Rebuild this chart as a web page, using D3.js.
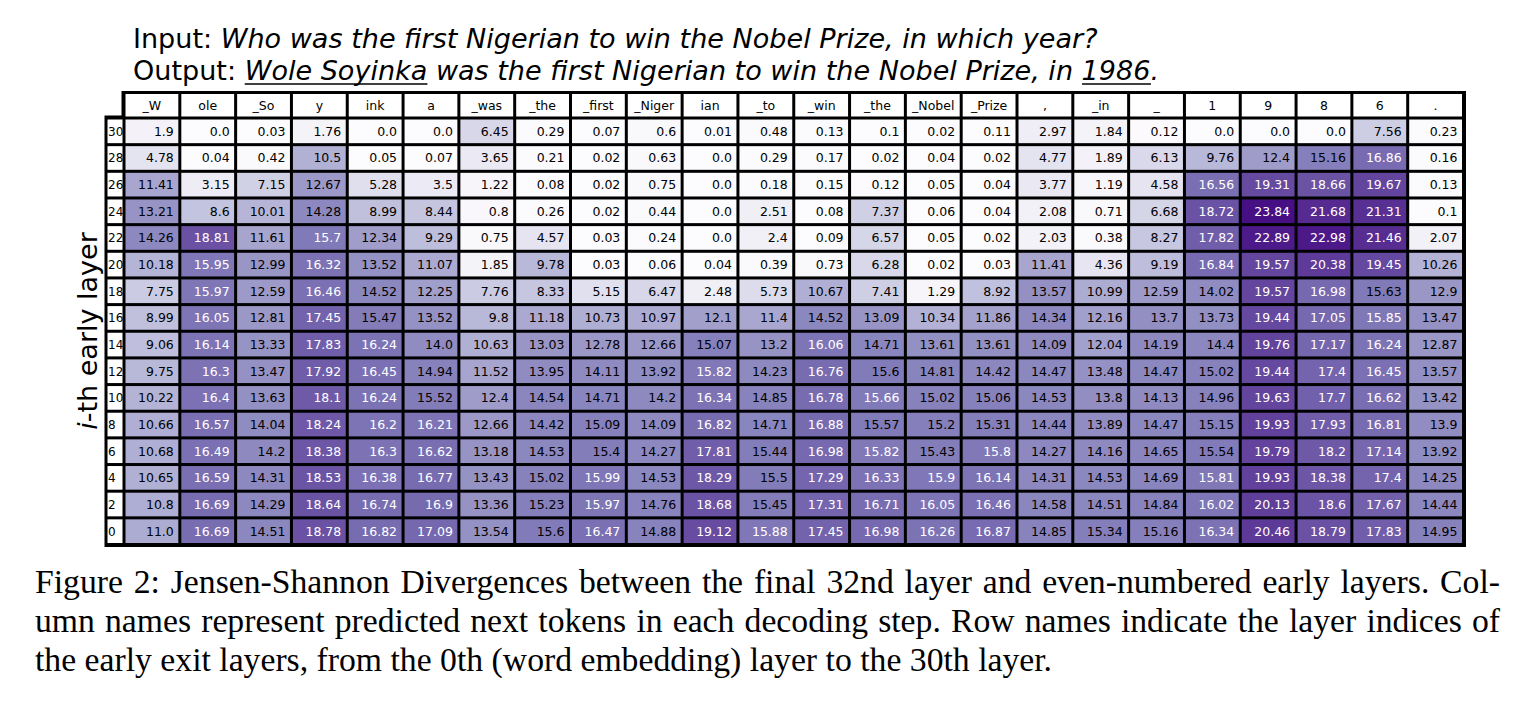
<!DOCTYPE html>
<html><head><meta charset="utf-8">
<script src="https://cdn.jsdelivr.net/npm/d3@7"></script>
<style>html,body{margin:0;padding:0;background:#fff;overflow:hidden}svg{display:block}</style>
</head><body>
<script>
// ---- data ----
const tokens = ["_W","ole","_So","y","ink","a","_was","_the","_first","_Niger","ian","_to","_win","_the","_Nobel","_Prize",",","_in","_","1","9","8","6","."];
const layers = [30,28,26,24,22,20,18,16,14,12,10,8,6,4,2,0];
const layer30 = [1.9,0.0,0.03,1.76,0.0,0.0,6.45,0.29,0.07,0.6,0.01,0.48,0.13,0.1,0.02,0.11,2.97,1.84,0.12,0.0,0.0,0.0,7.56,0.23];
const layer28 = [4.78,0.04,0.42,10.5,0.05,0.07,3.65,0.21,0.02,0.63,0.0,0.29,0.17,0.02,0.04,0.02,4.77,1.89,6.13,9.76,12.4,15.16,16.86,0.16];
const layer26 = [11.41,3.15,7.15,12.67,5.28,3.5,1.22,0.08,0.02,0.75,0.0,0.18,0.15,0.12,0.05,0.04,3.77,1.19,4.58,16.56,19.31,18.66,19.67,0.13];
const layer24 = [13.21,8.6,10.01,14.28,8.99,8.44,0.8,0.26,0.02,0.44,0.0,2.51,0.08,7.37,0.06,0.04,2.08,0.71,6.68,18.72,23.84,21.68,21.31,0.1];
const layer22 = [14.26,18.81,11.61,15.7,12.34,9.29,0.75,4.57,0.03,0.24,0.0,2.4,0.09,6.57,0.05,0.02,2.03,0.38,8.27,17.82,22.89,22.98,21.46,2.07];
const layer20 = [10.18,15.95,12.99,16.32,13.52,11.07,1.85,9.78,0.03,0.06,0.04,0.39,0.73,6.28,0.02,0.03,11.41,4.36,9.19,16.84,19.57,20.38,19.45,10.26];
const layer18 = [7.75,15.97,12.59,16.46,14.52,12.25,7.76,8.33,5.15,6.47,2.48,5.73,10.67,7.41,1.29,8.92,13.57,10.99,12.59,14.02,19.57,16.98,15.63,12.9];
const layer16 = [8.99,16.05,12.81,17.45,15.47,13.52,9.8,11.18,10.73,10.97,12.1,11.4,14.52,13.09,10.34,11.86,14.34,12.16,13.7,13.73,19.44,17.05,15.85,13.47];
const layer14 = [9.06,16.14,13.33,17.83,16.24,14.0,10.63,13.03,12.78,12.66,15.07,13.2,16.06,14.71,13.61,13.61,14.09,12.04,14.19,14.4,19.76,17.17,16.24,12.87];
const layer12 = [9.75,16.3,13.47,17.92,16.45,14.94,11.52,13.95,14.11,13.92,15.82,14.23,16.76,15.6,14.81,14.42,14.47,13.48,14.47,15.02,19.44,17.4,16.45,13.57];
const layer10 = [10.22,16.4,13.63,18.1,16.24,15.52,12.4,14.54,14.71,14.2,16.34,14.85,16.78,15.66,15.02,15.06,14.53,13.8,14.13,14.96,19.63,17.7,16.62,13.42];
const layer8  = [10.66,16.57,14.04,18.24,16.2,16.21,12.66,14.42,15.09,14.09,16.82,14.71,16.88,15.57,15.2,15.31,14.44,13.89,14.47,15.15,19.93,17.93,16.81,13.9];
const layer6  = [10.68,16.49,14.2,18.38,16.3,16.62,13.18,14.53,15.4,14.27,17.81,15.44,16.98,15.82,15.43,15.8,14.27,14.16,14.65,15.54,19.79,18.2,17.14,13.92];
const layer4  = [10.65,16.59,14.31,18.53,16.38,16.77,13.43,15.02,15.99,14.53,18.29,15.5,17.29,16.33,15.9,16.14,14.31,14.53,14.69,15.81,19.93,18.38,17.4,14.25];
const layer2  = [10.8,16.69,14.29,18.64,16.74,16.9,13.36,15.23,15.97,14.76,18.68,15.45,17.31,16.71,16.05,16.46,14.58,14.51,14.84,16.02,20.13,18.6,17.67,14.44];
const layer0  = [11.0,16.69,14.51,18.78,16.82,17.09,13.54,15.6,16.47,14.88,19.12,15.88,17.45,16.98,16.26,16.87,14.85,15.34,15.16,16.34,20.46,18.79,17.83,14.95];
const rowsData = [layer30,layer28,layer26,layer24,layer22,layer20,layer18,layer16,layer14,layer12,layer10,layer8,layer6,layer4,layer2,layer0];

const inputText = "Who was the first Nigerian to win the Nobel Prize, in which year?";
const outputParts = [
  {t:"Wole Soyinka", u:true},
  {t:" was the first Nigerian to win the Nobel Prize, in ", u:false},
  {t:"1986", u:true},
  {t:".", u:false}
];
const yLabel = ["i", "-th early layer"];
const captionLines = [
  "Figure 2: Jensen-Shannon Divergences between the final 32nd layer and even-numbered early layers. Col-",
  "umn names represent predicted next tokens in each decoding step. Row names indicate the layer indices of",
  "the early exit layers, from the 0th (word embedding) layer to the 30th layer."
];

// ---- layout ----
const W = 1534, H = 704;
const svg = d3.select("body").append("svg").attr("width", W).attr("height", H);
const sans = "'DejaVu Sans', sans-serif";
const serif = "'Liberation Serif', 'Times New Roman', serif";

const cols = d3.range(tokens.length);
const x = d3.scaleBand().domain(cols).range([124, 1463.5]);
const y = d3.scaleBand().domain(layers).range([118, 544.5]);
const headY0 = 93.5, headY1 = 118;
const labX0 = 107, labX1 = 124;
const color = d3.scaleSequential(d3.interpolatePurples).domain([0, 25]);
const ins = 1.5, outer = 2.5;
const fmt = v => Number.isInteger(v) ? v.toFixed(1) : String(v);

// black frames
svg.append("rect").attr("x", x.range()[0]-outer).attr("y", headY0-outer)
  .attr("width", x.range()[1]-x.range()[0]+2*outer).attr("height", headY1-headY0+outer).attr("fill","#000");
svg.append("rect").attr("x", labX0-outer).attr("y", y.range()[0]-outer)
  .attr("width", x.range()[1]-labX0+2*outer).attr("height", y.range()[1]-y.range()[0]+2*outer).attr("fill","#000");

// header
const hg = svg.append("g");
hg.selectAll("rect").data(cols).join("rect")
  .attr("x", i => x(i)+ins).attr("y", headY0+ins-1)
  .attr("width", x.bandwidth()-2*ins).attr("height", headY1-headY0-2*ins+1).attr("fill","#fff");
hg.selectAll("text").data(cols).join("text")
  .attr("x", i => x(i)+x.bandwidth()/2).attr("y", (headY0+headY1)/2+4)
  .attr("text-anchor","middle").attr("font-family", sans).attr("font-size", 12.5)
  .text(i => tokens[i]);

// row labels
const rg = svg.append("g");
rg.selectAll("rect").data(layers).join("rect")
  .attr("x", labX0+ins-1).attr("y", l => y(l)+ins)
  .attr("width", labX1-labX0-2*ins+1).attr("height", y.bandwidth()-2*ins).attr("fill","#fff");
rg.selectAll("text").data(layers).join("text")
  .attr("x", labX0+1).attr("y", l => y(l)+y.bandwidth()/2+4.5)
  .attr("font-family", sans).attr("font-size", 12).text(l => l);

// cells
const cells = [];
rowsData.forEach((row, r) => row.forEach((v, c) => cells.push({l: layers[r], c, v})));
const cg = svg.append("g");
cg.selectAll("rect").data(cells).join("rect")
  .attr("x", d => x(d.c)+ins).attr("y", d => y(d.l)+ins)
  .attr("width", x.bandwidth()-2*ins).attr("height", y.bandwidth()-2*ins)
  .attr("fill", d => color(d.v));
cg.selectAll("text").data(cells).join("text")
  .attr("x", d => x(d.c)+x.bandwidth()-6).attr("y", d => y(d.l)+y.bandwidth()/2+4.5)
  .attr("text-anchor","end").attr("font-family", sans).attr("font-size", 12.5)
  .attr("fill", d => d.v > 15.65 ? "#fff" : "#000")
  .text(d => fmt(d.v));

// title
const tg = svg.append("g");
const t1 = tg.append("text").attr("x", 133).attr("y", 48).attr("font-family", sans).attr("font-size", 27);
t1.append("tspan").text("Input: ");
t1.append("tspan").attr("font-style","italic").text(inputText);
const t2 = tg.append("text").attr("x", 133).attr("y", 80).attr("font-family", sans).attr("font-size", 27);
t2.append("tspan").text("Output: ");
outputParts.forEach(p => t2.append("tspan").attr("font-style","italic").text(p.t));
let idx = "Output: ".length;
outputParts.forEach(p => {
  if (p.u) {
    const n = t2.node();
    const x0 = n.getStartPositionOfChar(idx).x;
    const x1 = n.getEndPositionOfChar(idx + p.t.length - 1).x;
    tg.append("line").attr("x1", x0).attr("x2", x1).attr("y1", 84).attr("y2", 84)
      .attr("stroke","#000").attr("stroke-width", 1.6);
  }
  idx += p.t.length;
});
const w1 = t1.node().getComputedTextLength();
const sx = 965 / w1;
tg.attr("transform", `translate(133,0) scale(${sx},1) translate(-133,0)`);

// y label
const yl = svg.append("text").attr("transform", "translate(97,331) rotate(-90)")
  .attr("text-anchor","middle").attr("font-family", sans).attr("font-size", 27);
yl.append("tspan").attr("font-style","italic").text(yLabel[0]);
yl.append("tspan").text(yLabel[1]);

// caption (justified lines)
const capX0 = 35, capX1 = 1500, capY = [593, 632, 671], capSize = 34.5, lastEnd = 1052;
// horizontal compression derived from the last (unjustified) line's width
const probe = svg.append("text").attr("font-family", serif).attr("font-size", capSize).text(captionLines[2]);
const csx = (lastEnd - capX0) / probe.node().getComputedTextLength();
probe.remove();
captionLines.forEach((line, li) => {
  const g = svg.append("g").attr("transform", `translate(${capX0},0) scale(${csx},1)`);
  const words = line.split(" ");
  const ts = words.map(w => g.append("text").attr("y", capY[li]).attr("font-family", serif)
    .attr("font-size", capSize).text(w));
  const widths = ts.map(t => t.node().getComputedTextLength());
  let gap;
  if (li < 2) gap = ((capX1 - capX0) / csx - d3.sum(widths)) / (words.length - 1);
  else gap = ((lastEnd - capX0) / csx - d3.sum(widths)) / (words.length - 1);
  let cx = 0;
  ts.forEach((t, i) => { t.attr("x", cx); cx += widths[i] + gap; });
});
</script>
</body></html>
